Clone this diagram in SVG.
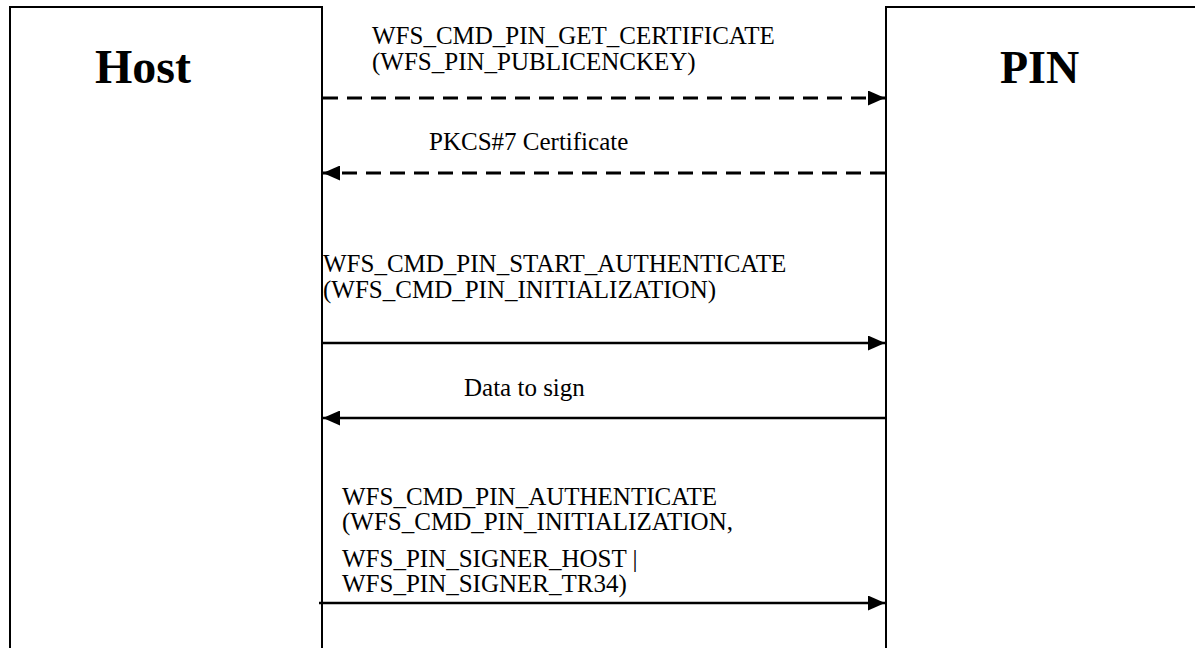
<svg xmlns="http://www.w3.org/2000/svg" width="1195" height="648" viewBox="0 0 1195 648">
<style>
.box{fill:#fff;stroke:#000;stroke-width:2}
.title{font-family:"Liberation Serif","Times New Roman",serif;font-weight:bold;font-size:48px;fill:#000}
.lbl{font-family:"Liberation Serif","Times New Roman",serif;font-size:25px;fill:#000}
.msg{stroke:#000;stroke-width:2.5;fill:none}
.dash{stroke-width:3;stroke-dasharray:15 9}
</style>
<defs>
<marker id="ah" viewBox="0 0 17 15" refX="17" refY="7.5" markerUnits="userSpaceOnUse" markerWidth="17" markerHeight="15" orient="auto">
<path d="M0,0 L17,7.5 L0,15 Z" fill="#000"/>
</marker>
</defs>
<g id="host">
<rect class="box" x="10" y="7" width="312" height="660"/>
<text class="title" x="95" y="83">Host</text>
</g>
<g id="pin">
<rect class="box" x="886" y="7" width="330" height="660"/>
<text class="title" x="1000" y="83" style="font-size:46px">PIN</text>
</g>
<g id="connectors">
<line class="msg dash" x1="323" y1="98" x2="885" y2="98" marker-end="url(#ah)"/>
<line class="msg dash" x1="885" y1="173" x2="323" y2="173" marker-end="url(#ah)"/>
<line class="msg" x1="323" y1="343" x2="885" y2="343" marker-end="url(#ah)"/>
<line class="msg" x1="885" y1="418" x2="323" y2="418" marker-end="url(#ah)"/>
<line class="msg" x1="319" y1="603" x2="885" y2="603" marker-end="url(#ah)"/>
</g>
<g id="labels">
<text class="lbl" x="372" y="44">WFS_CMD_PIN_GET_CERTIFICATE</text>
<text class="lbl" x="372" y="70">(WFS_PIN_PUBLICENCKEY)</text>
<text class="lbl" x="429" y="150">PKCS#7 Certificate</text>
<text class="lbl" x="323" y="272">WFS_CMD_PIN_START_AUTHENTICATE</text>
<text class="lbl" x="323" y="298">(WFS_CMD_PIN_INITIALIZATION)</text>
<text class="lbl" x="464" y="396">Data to sign</text>
<text class="lbl" x="342" y="505">WFS_CMD_PIN_AUTHENTICATE</text>
<text class="lbl" x="342" y="530">(WFS_CMD_PIN_INITIALIZATION,</text>
<text class="lbl" x="342" y="567">WFS_PIN_SIGNER_HOST |</text>
<text class="lbl" x="342" y="592">WFS_PIN_SIGNER_TR34)</text>
</g>
</svg>
